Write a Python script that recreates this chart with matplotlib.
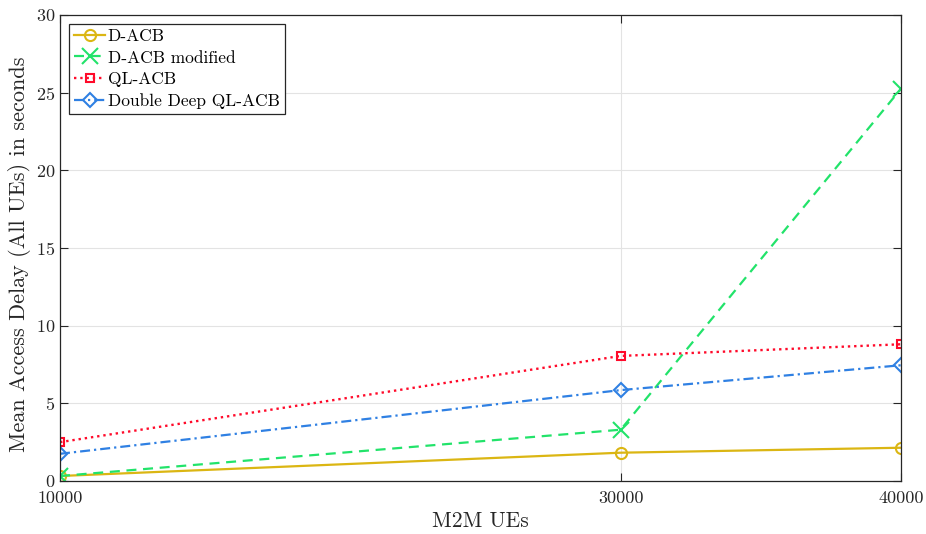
"""Mean access delay versus number of M2M UEs."""

import matplotlib
matplotlib.use('Agg')
import matplotlib.pyplot as plt

m2m_ues = [10000, 30000, 40000]
dacb = [0.32, 1.82, 2.14]
dacb_mod = [0.32, 3.3, 25.25]
ql_acb = [2.5, 8.05, 8.8]
ddql_acb = [1.75, 5.85, 7.45]

plt.rcParams['font.family'] = ['cmr10', 'DejaVu Serif']
plt.rcParams['mathtext.fontset'] = 'cm'
plt.rcParams['axes.formatter.use_mathtext'] = True

fig = plt.figure(figsize=(9.26, 5.34), dpi=100)
ax = fig.add_axes([0.0648, 0.0993, 0.9082, 0.8727])

ax.plot(m2m_ues, dacb, '-', color='#DBB613', marker='o', ms=8,
        mfc='none', mew=1.5, lw=1.6, label='D-ACB')
ax.plot(m2m_ues, dacb_mod, '--', color='#22E36A', marker='x', ms=11,
        mew=1.5, lw=1.6, dashes=(4.5, 3.0), label='D-ACB modified')
ax.plot(m2m_ues, ql_acb, ':', color='#FF0A2A', marker='s', ms=6,
        mfc='none', mew=1.5, lw=1.7, label='QL-ACB')
ax.plot(m2m_ues, ddql_acb, '-.', color='#2F80E3', marker='D', ms=7,
        mfc='none', mew=1.5, lw=1.6, dashes=(4.5, 1.8, 1.0, 1.8),
        label='Double Deep QL-ACB')

ax.set_xlim(10000, 40000)
ax.set_ylim(0, 30)
ax.set_xticks(m2m_ues)
ax.set_xticklabels([str(v) for v in m2m_ues])
ax.set_yticks(range(0, 31, 5))
ax.grid(True, color='#E3E3E3', lw=0.8)
ax.tick_params(direction='in', top=True, right=True, labelsize=13,
               length=6, colors='#262626', labelcolor='#262626')
ax.tick_params(axis='x', pad=7)
for sp in ax.spines.values():
    sp.set_color('#262626')
    sp.set_linewidth(0.9)

ax.set_xlabel('M2M UEs', fontsize=15.5, color='#262626')
ax.xaxis.set_label_coords(0.5, -0.066)
ax.set_ylabel('Mean Access Delay (All UEs) in seconds', fontsize=16,
              color='#262626')
ax.yaxis.set_label_coords(-0.035, 0.487)

leg = ax.legend(loc='upper left', fontsize=12.5, fancybox=False,
                framealpha=1, edgecolor='#262626', borderpad=0.3,
                labelspacing=0.35, handlelength=1.8, handletextpad=0.15,
                borderaxespad=0.5)
leg.get_frame().set_linewidth(0.9)

fig.savefig('out.png', dpi=100)
